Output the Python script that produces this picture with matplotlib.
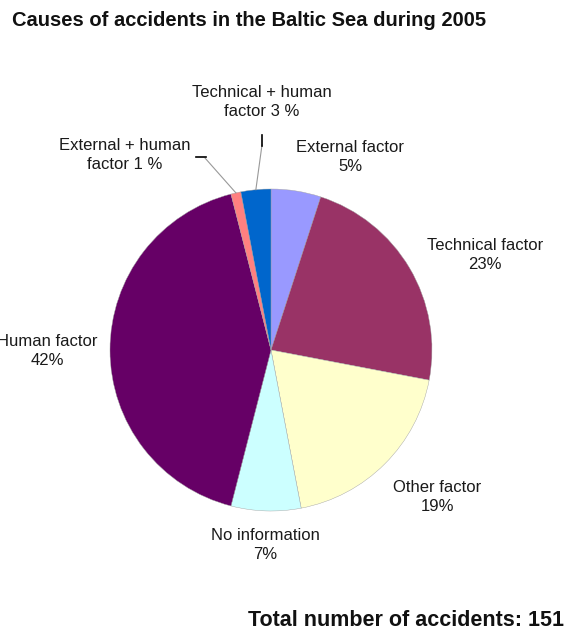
import numpy as np
import matplotlib.pyplot as plt

plt.rcParams['font.family'] = ['Liberation Sans', 'DejaVu Sans']

# shares of accidents, clockwise from 12 o'clock
causes = ['External factor', 'Technical factor', 'Other factor', 'No information',
          'Human factor', 'External + human\nfactor', 'Technical + human\nfactor']
shares = [5, 23, 19, 7, 42, 1, 3]
label_texts = ['External factor\n5%', 'Technical factor\n23%', 'Other factor\n19%',
               'No information\n7%', 'Human factor\n42%', 'External + human\nfactor 1 %',
               'Technical + human\nfactor 3 %']
colors = ['#9999FF', '#993366', '#FFFFCC', '#CCFFFF', '#660066', '#FF8080', '#0066CC']
total = 151

W, H = 571, 632
fig = plt.figure(figsize=(W / 100, H / 100), dpi=100)
ax = fig.add_axes([0, 0, 1, 1])

cx, cy, r = 271, H - 350, 161
wedges, _ = ax.pie(shares, colors=colors, startangle=90, counterclock=False,
                   center=(cx, cy), radius=r, frame=True,
                   wedgeprops=dict(edgecolor='#a0a0a0', linewidth=0.3))
ax.set_xlim(0, W)
ax.set_ylim(0, H)
ax.set_aspect('equal')
ax.axis('off')

# label positions (pixel coords from top-left)
label_pos = [(350, 157), (485, 255), (437, 497), (265, 545), (47, 351),
             (125, 155), (262, 102)]
for txt, (x, y) in zip(label_texts, label_pos):
    ax.text(x, H - y, txt, ha='center', va='center', fontsize=12,
            color='#1a1a1a', linespacing=1.3)

# leader lines for the two thin slices
def edge_point(i):
    w = wedges[i]
    ang = np.deg2rad((w.theta1 + w.theta2) / 2)
    return cx + r * np.cos(ang), cy + r * np.sin(ang)

x0, y0 = edge_point(5)
ax.plot([x0, 205], [y0, H - 158], color='#999999', lw=0.8)
ax.plot([196, 206], [H - 157, H - 157], color='black', lw=1.2)
x0, y0 = edge_point(6)
ax.plot([x0, 262], [y0, H - 145], color='#999999', lw=0.8)
ax.plot([262, 262], [H - 135, H - 146], color='black', lw=1.2)

ax.text(12, H - 20, 'Causes of accidents in the Baltic Sea during 2005',
        ha='left', va='center', fontsize=14.5, fontweight='bold', color='#111111')
ax.text(564, H - 620, f'Total number of accidents: {total}',
        ha='right', va='center', fontsize=15.5, fontweight='bold', color='#111111')

fig.savefig('out.png', dpi=100, facecolor='white')
